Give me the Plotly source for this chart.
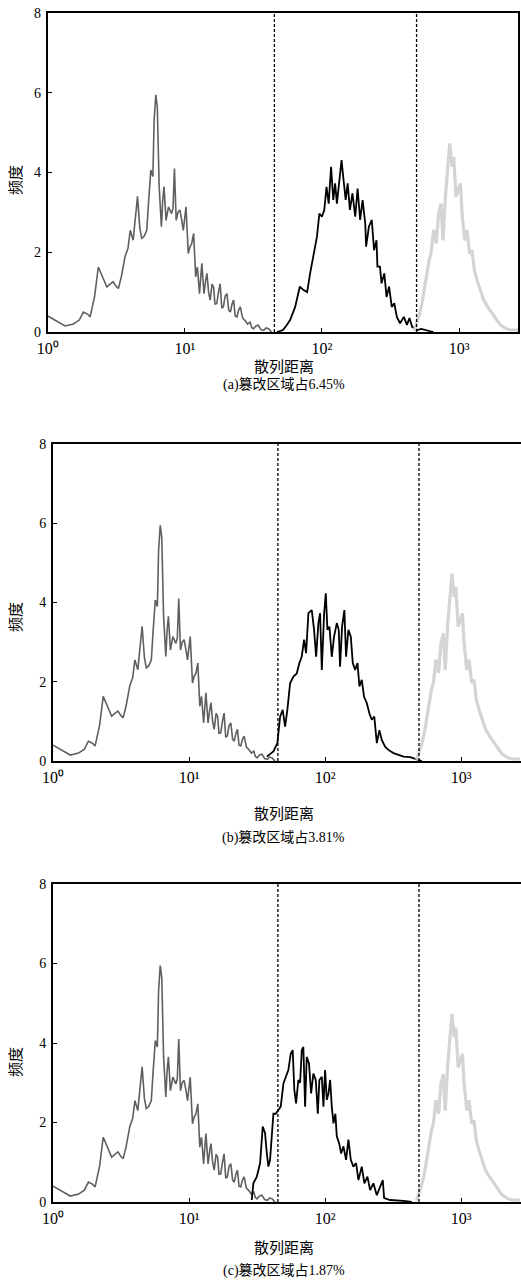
import plotly.graph_objects as go

# ---------------- data ----------------
# left (dark gray) distribution, same in all panels
left_x = [1.0, 1.15, 1.34, 1.54, 1.7, 1.82, 1.95, 2.04, 2.2, 2.34, 2.5, 2.7, 2.85, 3.0, 3.15, 3.28,
          3.45, 3.67, 3.85, 4.0, 4.2, 4.35, 4.52, 4.7, 4.85, 5.05, 5.28, 5.45, 5.65, 5.85, 5.97, 6.14,
          6.3, 6.5, 6.75, 6.9, 7.05, 7.3, 7.6, 8.0, 8.2, 8.4, 8.65, 8.9, 9.2, 9.5, 9.75, 10.2, 10.6,
          10.9, 11.2, 11.6, 12.0, 12.35, 12.8, 13.3, 13.8, 14.2, 14.5, 14.9, 15.3, 15.8, 16.2, 16.6,
          17.1, 17.6, 18.1, 18.6, 19.1, 19.7, 20.3, 20.9, 21.5, 22.1, 22.7, 23.3, 24.0, 24.7, 25.4,
          26.4, 27.5, 28.7, 29.9, 30.7, 31.6, 33.0, 34.3, 36.0, 37.6, 39.2, 40.8, 42.0, 43.0]
left_y = [0.4, 0.28, 0.15, 0.2, 0.3, 0.5, 0.45, 0.38, 0.9, 1.63, 1.4, 1.13, 1.2, 1.26, 1.15, 1.09,
          1.4, 1.9, 2.1, 2.55, 2.3, 2.9, 3.4, 2.6, 2.35, 2.4, 2.55, 3.3, 4.06, 3.9, 5.3, 5.95,
          5.65, 3.65, 2.64, 3.3, 3.65, 2.8, 3.14, 2.97, 3.1, 4.1, 2.8, 3.0, 3.06, 2.8, 2.55, 3.14, 1.97,
          2.14, 2.2, 2.47, 1.38, 1.63, 0.96, 1.72, 0.96, 1.3, 1.47, 1.0, 0.8, 1.2, 1.13, 0.7,
          0.71, 1.0, 1.21, 0.6, 0.63, 0.9, 0.96, 0.55, 0.5, 0.7, 0.8, 0.4, 0.38, 0.55, 0.63,
          0.35, 0.29, 0.2, 0.25, 0.12, 0.08, 0.15, 0.17, 0.06, 0.04, 0.1, 0.08, 0.03, 0.0]

# right (light gray) distribution, same in all panels
right_x = [470, 493, 515, 537, 560, 583, 605, 625, 653, 683, 710, 739, 764, 795, 826, 855, 889,
           914, 951, 984, 1023, 1052, 1100, 1143, 1195, 1244, 1293, 1352, 1429, 1512, 1618, 1741,
           1872, 1997, 2185, 2367, 2700]
right_y = [0.03, 0.22, 0.45, 0.72, 1.1, 1.47, 1.8, 1.97, 2.56, 2.22, 2.97, 3.22, 2.3, 3.39, 4.06,
           4.73, 4.14, 4.39, 3.39, 3.56, 3.73, 2.97, 2.3, 2.56, 1.97, 2.05, 1.55, 1.3, 1.05, 0.8,
           0.63, 0.47, 0.3, 0.18, 0.09, 0.05, 0.05]

# middle (black) distribution, panel (a)
mid_a_x = [46.9, 52.0, 55.6, 58.6, 63.8, 69.0, 73.5, 78.0, 82.0, 86.8, 92.0, 95.8, 100, 104, 108,
           112, 116.6, 121, 124.8, 128.6, 134, 139, 143, 149, 154, 160, 167, 175, 182, 190, 198,
           207, 210, 220, 231, 240, 250, 254, 265, 272, 285, 296, 309, 323, 337, 352, 371, 396,
           417, 435, 455, 495, 530, 580, 650]
mid_a_y = [0.0, 0.05, 0.18, 0.3, 0.63, 1.14, 1.05, 1.0, 1.47, 1.89, 2.39, 2.97, 2.89, 3.06, 3.64,
           3.22, 4.14, 3.31, 3.73, 3.22, 3.81, 4.31, 3.89, 3.31, 3.73, 3.06, 3.48, 2.89, 3.6, 2.81,
           3.31, 2.72, 2.14, 2.64, 2.81, 2.05, 2.3, 1.64, 1.64, 1.22, 1.47, 0.88, 1.14, 0.63, 0.72,
           0.38, 0.22, 0.38, 0.18, 0.35, 0.13, 0.05, 0.08, 0.04, 0.0]

# middle (black) distribution, panel (b)
mid_b_x = [37.3, 41.7, 44.6, 46.7, 48.8, 50.8, 52.8, 55.3, 58.5, 61.9, 64.7, 67.3, 70.1, 72.5,
           75.4, 79.8, 83, 85.9, 89.3, 91.9, 94.6, 98.4, 101.2, 104, 107.6, 112, 116.4, 121.9, 126,
           128.8, 133.3, 138.6, 142.6, 148.3, 154.5, 159.8, 166.2, 173, 178.8, 186, 193.5, 202.5,
           211.7, 220.3, 230, 240, 250.6, 261, 276, 292, 318, 346, 377, 422, 472, 514]
mid_b_y = [0.11, 0.24, 0.45, 1.12, 1.29, 0.87, 1.29, 1.96, 2.13, 2.21, 2.47, 2.63, 3.06, 2.72,
           3.73, 3.81, 3.31, 2.63, 3.48, 3.73, 2.3, 3.73, 4.23, 3.31, 3.39, 2.63, 3.14, 3.48, 3.31,
           2.38, 3.39, 3.81, 2.63, 3.31, 3.14, 2.47, 2.3, 2.47, 1.88, 2.05, 1.62, 1.46,
           1.2, 1.04, 1.12, 0.45, 0.78, 0.53, 0.36, 0.28, 0.2, 0.15, 0.11, 0.1, 0.05, 0.0]

# middle (black) distribution, panel (c)
mid_c_x = [28.9, 29.7, 31.5, 33.3, 34.8, 36.2, 37.3, 38.3, 39.4, 40.6, 41.7, 43.4, 45.4, 47.2,
           49.4, 51.7, 53.7, 55.9, 57.8, 59.4, 61.2, 63.6, 65.5, 67.4, 69.2, 71.3, 73.3, 76.2, 78.9,
           82, 85.4, 88.4, 90.8, 94.6, 97.2, 100, 102.9, 105.9, 108.9, 112, 115.2, 119, 121.9,
           126.8, 131.2, 136.4, 142.6, 148.4, 154.5, 161.4, 169, 175.8, 186, 194.5, 204.8, 214.3,
           226.6, 239.9, 253.8, 265.5, 271.6, 300.7, 376, 434]
mid_c_y = [0.05, 0.47, 0.64, 0.98, 1.9, 1.73, 1.22, 0.89, 1.06, 1.73, 2.22, 2.22, 2.31, 2.4,
           2.98, 3.15, 3.32, 3.73, 3.82, 2.82, 2.48, 3.07, 3.0, 3.82, 3.9, 2.4, 3.65, 3.48, 2.73,
           3.23, 3.07, 2.22, 3.07, 3.15, 2.4, 3.32, 2.57, 2.73, 3.07, 2.4, 1.98, 2.22, 1.65,
           1.48, 1.22, 1.4, 1.06, 1.57, 1.06, 0.89, 0.98, 0.55, 0.89, 0.47, 0.64, 0.3,
           0.47, 0.17, 0.38, 0.55, 0.1, 0.05, 0.03, 0.0]

thresholds = [45, 490]
x_tickvals = [1, 10, 100, 1000]
x_ticktext = ["10\u2070", "10\u00b9", "10\u00b2", "10\u00b3"]
y_tickvals = [0, 2, 4, 6, 8]
x_label = "散列距离"
y_label = "频度"
captions = ["(a)篡改区域占6.45%", "(b)篡改区域占3.81%", "(c)篡改区域占1.87%"]
mids = [(mid_a_x, mid_a_y), (mid_b_x, mid_b_y), (mid_c_x, mid_c_y)]

# ---------------- layout geometry (pixels) ----------------
W, H = 521, 1280
FONT = "Liberation Serif, Times New Roman, Noto Sans CJK SC, serif"
# (left px, right px, top px, bottom px, log range right)
panels = [
    (47.7, 518, 13, 332, 3.43),
    (53, 521, 444, 761, 3.44),
    (53, 521, 884, 1202, 3.44),
]
xlabel_y = [367, 814, 1248]
caption_y = [384, 837, 1270]
ylabel_y = [180, 617, 1062]

fig = go.Figure()
layout = dict(width=W, height=H, margin=dict(l=0, r=0, t=0, b=0, autoexpand=False),
              paper_bgcolor="white", plot_bgcolor="white", showlegend=False,
              font=dict(family=FONT, color="black"))
annotations = []

for i, (l, r, t, b, xr) in enumerate(panels):
    n = "" if i == 0 else str(i + 1)
    xa, ya = "x" + n, "y" + n
    mx, my = mids[i]
    fig.add_trace(go.Scatter(x=left_x, y=left_y, mode="lines", xaxis=xa, yaxis=ya,
                             line=dict(color="#5f5f5f", width=1.6)))
    fig.add_trace(go.Scatter(x=mx, y=my, mode="lines", xaxis=xa, yaxis=ya,
                             line=dict(color="black", width=1.8)))
    fig.add_trace(go.Scatter(x=right_x, y=right_y, mode="lines", xaxis=xa, yaxis=ya,
                             line=dict(color="#d4d4d4", width=3.2)))
    for th in thresholds:
        fig.add_trace(go.Scatter(x=[th, th], y=[0, 8], mode="lines", xaxis=xa, yaxis=ya,
                                 line=dict(color="black", width=1.3, dash="3px,2px")))
    layout["xaxis" + n] = dict(
        type="log", range=[0, xr], domain=[l / W, r / W], anchor=ya, automargin=False,
        showline=True, linecolor="black", linewidth=2, mirror=True,
        showgrid=False, zeroline=False, ticks="inside", ticklen=4, tickcolor="black",
        tickvals=x_tickvals, ticktext=x_ticktext, tickangle=0,
        tickfont=dict(size=16, family=FONT), ticklabelstandoff=1)
    layout["yaxis" + n] = dict(
        range=[0, 8], domain=[1 - b / H, 1 - t / H], anchor=xa, automargin=False,
        showline=True, linecolor="black", linewidth=2, mirror=(i == 0),
        showgrid=False, zeroline=False, ticks="inside", ticklen=4, tickcolor="black",
        tickvals=y_tickvals, tickfont=dict(size=14, family=FONT), ticklabelstandoff=2)
    annotations.append(dict(x=0.545, xref="paper",
                            y=1 - xlabel_y[i] / H, yref="paper", text=x_label,
                            showarrow=False, font=dict(size=15, family=FONT),
                            xanchor="center", yanchor="middle"))
    annotations.append(dict(x=0.545, xref="paper", y=1 - caption_y[i] / H, yref="paper",
                            text=captions[i], showarrow=False, font=dict(size=14, family=FONT),
                            xanchor="center", yanchor="middle"))
    annotations.append(dict(x=16 / W, xref="paper", y=1 - ylabel_y[i] / H, yref="paper",
                            text=y_label, showarrow=False, textangle=-90,
                            font=dict(size=15, family=FONT),
                            xanchor="center", yanchor="middle"))

layout["annotations"] = annotations
fig.update_layout(**layout)
fig.write_html("out.html")
